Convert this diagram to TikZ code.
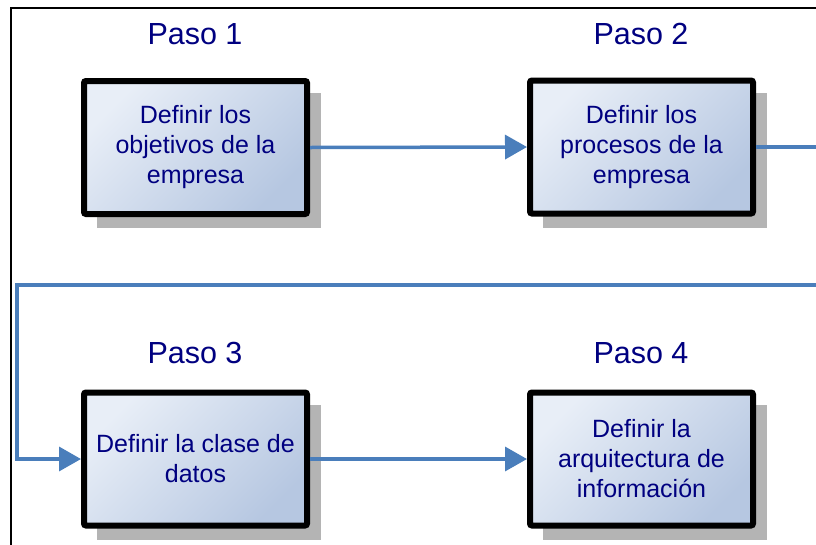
\documentclass[tikz,border=0pt]{standalone}
\usepackage{fontspec}
\setmainfont{Liberation Sans}
\usetikzlibrary{arrows.meta,backgrounds}
\definecolor{txtnavy}{RGB}{0,0,128}
\definecolor{boxlight}{RGB}{232,238,247}
\definecolor{boxdark}{RGB}{182,199,225}
\definecolor{linkblue}{RGB}{74,126,187}
\definecolor{shadowgray}{RGB}{180,180,180}
\tikzset{
  stepbox/.style={draw=black, line width=6pt, rounded corners=2pt,
    minimum width=223pt, minimum height=133pt, inner sep=2pt,
    top color=boxlight, bottom color=boxdark, shading angle=45,
    align=center, text=txtnavy, font=\fontsize{25}{30}\selectfont},
  steplabel/.style={text=txtnavy, font=\fontsize{30.5}{36}\selectfont},
  link/.style={draw=linkblue, line width=3.5pt},
  linkarrow/.style={link, -{Triangle[length=22pt,width=24pt]}},
  shadowbox/.style={fill=shadowgray},
  frameline/.style={draw=black, line width=2pt}
}
\begin{document}
\begin{tikzpicture}[x=1pt,y=-1pt]
\clip (0,0) rectangle (816,544);
\path[use as bounding box] (0,0) rectangle (816,544);
% frame
\coordinate (fb) at (11,548);
\coordinate (fc) at (11,8);
\coordinate (fr) at (820,8);
\draw[frameline] (fb) -- (fc) -- (fr);
% labels
\node[steplabel] (p1) at (195,34) {Paso 1};
\node[steplabel] (p2) at (641,34) {Paso 2};
\node[steplabel] (p3) at (195,353) {Paso 3};
\node[steplabel] (p4) at (641,353) {Paso 4};
% boxes
\node[stepbox] (b1) at (195.5,147.5) {Definir los\\objetivos de la\\empresa};
\node[stepbox] (b2) at (641.5,147) {Definir los\\procesos de la\\empresa};
\node[stepbox] (b3) at (195.5,459) {Definir la clase de\\datos};
\node[stepbox] (b4) at (641.5,459) {Definir la\\arquitectura de\\información};
% shadows
\begin{scope}[on background layer]
\foreach \b in {b1,b2,b3,b4}{
  \path[shadowbox] ([shift={(16,11)}]\b.south west) rectangle ([shift={(11,15)}]\b.north east);
}
\end{scope}
% connectors
\draw[linkarrow] (b1.east) -- (b2.west);
\coordinate (r1) at (840,147);
\coordinate (r2) at (840,285);
\coordinate (l1) at (17,285);
\draw[linkarrow] (b2.east) -- (r1) -- (r2) -- (l1) |- (b3.west);
\draw[linkarrow] (b3.east) -- (b4.west);
\end{tikzpicture}
\end{document}
